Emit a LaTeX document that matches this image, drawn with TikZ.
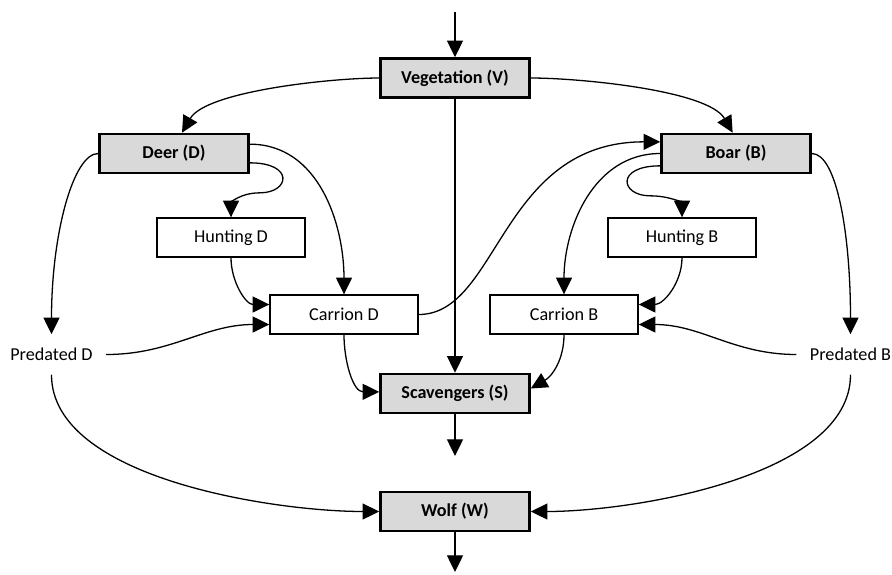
\documentclass[tikz,border=0pt]{standalone}
\usepackage{fontspec}
\setmainfont{Carlito}
\usetikzlibrary{arrows.meta}
\definecolor{boxgray}{HTML}{D9D9D9}

\begin{document}
\begin{tikzpicture}[x=0.03cm, y=0.03cm,
font=\fontsize{15.5}{18}\selectfont,
stock/.style={rectangle, draw=black, fill=boxgray, line width=2.2pt, minimum width=4.47cm, minimum height=1.17cm, font=\fontsize{15.5}{18}\selectfont\bfseries},
aux/.style={rectangle, draw=black, fill=white, line width=1.2pt, minimum width=4.44cm, minimum height=1.17cm},
loss/.style={rectangle, inner xsep=0.4cm, minimum height=1.2cm},
flow/.style={-{Triangle[length=5mm, width=4.8mm]}, line width=1.1pt}
]
\useasboundingbox (0,0) rectangle (892,-574);

%Nodes
\node[stock]   (v)    at (455,-78)       {Vegetation (V)};
\node[stock]   (d)    at (174,-153.5)    {Deer (D)};
\node[stock]   (b)    at (736,-153.5)    {Boar (B)};
\node[aux]     (hd)   at (231,-237.5)    {Hunting D};
\node[aux]     (hb)   at (682,-237.5)    {Hunting B};
\node[aux]     (cd)   at (344,-314.5)    {Carrion D};
\node[aux]     (cb)   at (564,-314.5)    {Carrion B};
\node[loss]    (pd)   at (51.5,-354.5)   {Predated D};
\node[loss]    (pb)   at (850.5,-354.5)  {Predated B};
\node[stock]   (s)    at (455,-393.5)    {Scavengers (S)};
\node[stock]   (w)    at (455,-511.5)    {Wolf (W)};
\coordinate    (vin)  at (455,-12);
\coordinate    (sout) at (455,-456);
\coordinate    (wout) at (455,-572);

%Lines
\draw[flow] (vin) -- (v);
\draw[flow] (v.west) to[out=180, in=60, looseness=0.6] ([xshift=0.24cm]d.north);
\draw[flow] (v.east) to[out=0, in=120, looseness=0.6] ([xshift=-0.1cm]b.north);
\draw[flow] (v) -- (s);
\draw[flow] ([yshift=0.28cm]d.east) to[out=0, in=90] (cd.north);
\draw[flow] ([yshift=-0.28cm]d.east) .. controls +(45,0) and +(30,0) .. ++(10,-30)
            .. controls +(-20,0) and +(0,14) .. (hd.north);
\draw[flow] (d.west) .. controls +(-25,0) and +(0,100) .. (pd.north);
\draw[flow] (hd.south) to[out=-90, in=180] ([yshift=0.3cm]cd.west);
\draw[flow] (pd.east) to[out=0, in=180] ([yshift=-0.3cm]cd.west);
\draw[flow] (pd.south) to[out=-90, in=180, looseness=0.75] (w.west);
\draw[flow] (cd.south) to[out=-90, in=180] ([yshift=0.05cm]s.west);
\draw[flow] (cd.east) .. controls +(80,0) and +(-160,0) .. ([yshift=0.35cm]b.west);
\draw[flow] (b.west) to[out=180, in=90] (cb.north);
\draw[flow] ([yshift=-0.37cm]b.west) .. controls +(-45,0) and +(-30,0) .. ++(-10,-30)
            .. controls +(20,0) and +(0,14) .. (hb.north);
\draw[flow] (b.east) .. controls +(25,0) and +(0,100) .. (pb.north);
\draw[flow] (hb.south) to[out=-90, in=0] ([yshift=0.3cm]cb.east);
\draw[flow] (pb.west) to[out=180, in=0] ([yshift=-0.3cm]cb.east);
\draw[flow] (pb.south) to[out=-90, in=0, looseness=0.75] (w.east);
\draw[flow] (cb.south) to[out=-90, in=30] ([yshift=0.15cm]s.east);
\draw[flow] (s) -- (sout);
\draw[flow] (w) -- (wout);
\end{tikzpicture}
\end{document}
